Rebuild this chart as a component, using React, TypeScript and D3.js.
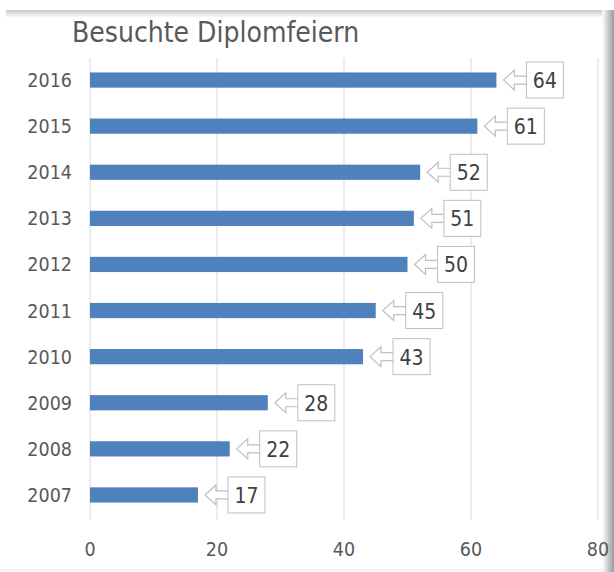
import { useEffect, useRef } from "react";
import * as d3 from "d3";

const years = ["2016", "2015", "2014", "2013", "2012", "2011", "2010", "2009", "2008", "2007"];
const visits = [64, 61, 52, 51, 50, 45, 43, 28, 22, 17];
const xTicks = [0, 20, 40, 60, 80];

const W = 614;
const H = 572;
const FONT = "'DejaVu Sans Condensed', 'Liberation Sans Narrow', sans-serif";

const App = () => {
  const ref = useRef<SVGSVGElement | null>(null);

  useEffect(() => {
    const svg = d3.select(ref.current);
    svg.selectAll("*").remove();

    const defs = svg.append("defs");
    const topGrad = defs
      .append("linearGradient")
      .attr("id", "topShade")
      .attr("x1", 0).attr("y1", 0).attr("x2", 0).attr("y2", 1);
    topGrad.append("stop").attr("offset", "0%").attr("stop-color", "#c8c8c8");
    topGrad.append("stop").attr("offset", "100%").attr("stop-color", "#ffffff");
    const rightGrad = defs
      .append("linearGradient")
      .attr("id", "rightShade")
      .attr("x1", 0).attr("y1", 0).attr("x2", 1).attr("y2", 0);
    rightGrad.append("stop").attr("offset", "0%").attr("stop-color", "#ffffff");
    rightGrad.append("stop").attr("offset", "100%").attr("stop-color", "#9a9a9a");

    // frame shading of the screenshot
    svg.append("rect").attr("x", 0).attr("y", 0).attr("width", W).attr("height", H).attr("fill", "#fff");
    svg.append("rect").attr("x", 6).attr("y", 10).attr("width", 600).attr("height", 8).attr("fill", "url(#topShade)");
    svg.append("rect").attr("x", 602).attr("y", 10).attr("width", 12).attr("height", H - 10).attr("fill", "url(#rightShade)");
    svg.append("line").attr("x1", 0).attr("x2", 604).attr("y1", 570).attr("y2", 570).attr("stroke", "#e6e6e6");

    const x = d3.scaleLinear().domain([0, 80]).range([90, 598]);
    const y = d3.scaleBand<string>().domain(years).range([57, 518]).paddingInner(0.67).paddingOuter(0.335);

    // grid
    svg
      .append("g")
      .selectAll("line")
      .data(xTicks)
      .join("line")
      .attr("x1", (d) => x(d))
      .attr("x2", (d) => x(d))
      .attr("y1", 58)
      .attr("y2", 520)
      .attr("stroke", "#d9d9d9")
      .attr("stroke-width", 1);

    // bars
    svg
      .append("g")
      .attr("fill", "#4f81bd")
      .selectAll("rect")
      .data(years)
      .join("rect")
      .attr("x", x(0))
      .attr("y", (d) => y(d)!)
      .attr("width", (_, i) => x(visits[i]) - x(0))
      .attr("height", y.bandwidth());

    // callouts
    const callouts = svg
      .append("g")
      .selectAll("g")
      .data(years)
      .join("g")
      .attr("transform", (d, i) => `translate(${x(visits[i])},${y(d)! + y.bandwidth() / 2})`);

    callouts
      .append("path")
      .attr("d", "M7,0 L18,-10 L18,-4 L32,-4 L32,4 L18,4 L18,10 Z")
      .attr("fill", "#fff")
      .attr("stroke", "#bfbfbf")
      .attr("stroke-width", 1.2);

    callouts
      .append("rect")
      .attr("x", 30)
      .attr("y", -18)
      .attr("width", 37)
      .attr("height", 36)
      .attr("fill", "#fff")
      .attr("stroke", "#bfbfbf")
      .attr("stroke-width", 1);

    callouts
      .append("text")
      .attr("x", 48.5)
      .attr("y", 8)
      .attr("text-anchor", "middle")
      .attr("font-family", FONT)
      .attr("font-size", 21)
      .attr("fill", "#404040")
      .text((_, i) => visits[i]);

    // y labels
    svg
      .append("g")
      .selectAll("text")
      .data(years)
      .join("text")
      .attr("x", 72)
      .attr("y", (d) => y(d)! + y.bandwidth() / 2 + 7)
      .attr("text-anchor", "end")
      .attr("font-family", FONT)
      .attr("font-size", 19.5)
      .attr("fill", "#595959")
      .text((d) => d);

    // x labels
    svg
      .append("g")
      .selectAll("text")
      .data(xTicks)
      .join("text")
      .attr("x", (d) => x(d))
      .attr("y", 556)
      .attr("text-anchor", "middle")
      .attr("font-family", FONT)
      .attr("font-size", 19.5)
      .attr("fill", "#595959")
      .text((d) => d);

    svg
      .append("text")
      .attr("x", 72)
      .attr("y", 42)
      .attr("font-family", FONT)
      .attr("font-size", 28)
      .attr("fill", "#595959")
      .text("Besuchte Diplomfeiern");
  }, []);

  return (
    <svg
      ref={ref}
      width={W}
      height={H}
      style={{ position: "absolute", left: 0, top: 0, display: "block" }}
    />
  );
};

export default App;
